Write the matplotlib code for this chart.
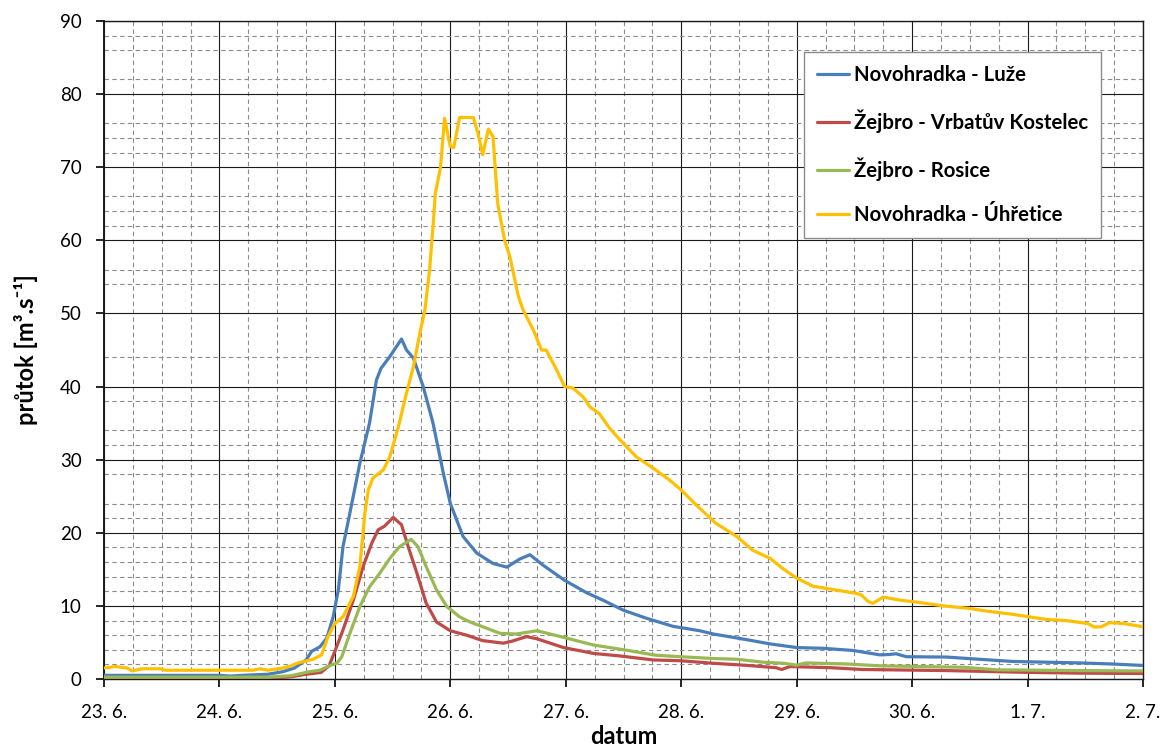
import matplotlib
matplotlib.use("Agg")
import matplotlib.pyplot as plt
from matplotlib.ticker import FixedLocator, MultipleLocator

plt.rcParams['font.family'] = ['Lato', 'DejaVu Sans']

# x = days since 23. 6. 00:00, y = discharge [m3/s]
day_labels = ["23. 6.", "24. 6.", "25. 6.", "26. 6.", "27. 6.",
              "28. 6.", "29. 6.", "30. 6.", "1. 7.", "2. 7."]

luze_t = [0, 0.5, 1.0, 1.09, 1.2, 1.42, 1.55, 1.65, 1.75, 1.8,
          1.87, 1.93, 1.985, 2.03, 2.07, 2.13, 2.216, 2.30, 2.36, 2.40,
          2.476, 2.577, 2.62, 2.68, 2.765, 2.85, 2.94, 3.0, 3.11, 3.23,
          3.37, 3.49, 3.60, 3.69, 3.80, 3.99, 4.18, 4.32, 4.50, 4.70,
          4.93, 5.16, 5.28, 5.56, 5.77, 6.00, 6.23, 6.49, 6.72, 6.80,
          6.86, 6.95, 7.30, 7.58, 7.87, 8.16, 8.45, 8.74, 9.0]
luze_q = [0.5, 0.5, 0.5, 0.4, 0.5, 0.65, 1.0, 1.5, 2.6, 3.8,
          4.4, 5.6, 8.5, 12.2, 18.1, 22.7, 29.5, 35.0, 40.9, 42.5,
          44.1, 46.5, 45.0, 43.9, 40.0, 35.0, 28.1, 24.0, 19.5, 17.2,
          15.8, 15.3, 16.4, 17.0, 15.6, 13.5, 11.8, 10.8, 9.4, 8.3,
          7.2, 6.6, 6.15, 5.4, 4.8, 4.3, 4.2, 3.9, 3.3, 3.35,
          3.45, 3.05, 3.0, 2.7, 2.4, 2.3, 2.2, 2.05, 1.85]

kostelec_t = [0, 1.42, 1.62, 1.73, 1.88, 1.95, 2.0, 2.07, 2.16, 2.245,
              2.32, 2.375, 2.43, 2.505, 2.577, 2.635, 2.71, 2.79, 2.88, 3.0,
              3.08, 3.14, 3.28, 3.46, 3.54, 3.66, 3.75, 3.98, 4.24, 4.47,
              4.76, 4.99, 5.28, 5.56, 5.82, 5.87, 5.94, 6.29, 6.57, 7.30,
              8.02, 8.45, 9.0]
kostelec_q = [0.05, 0.05, 0.3, 0.6, 0.9, 1.8, 3.8, 6.7, 10.8, 15.4,
              18.6, 20.4, 20.9, 22.1, 21.1, 18.1, 14.5, 10.4, 7.8, 6.6,
              6.25, 6.0, 5.25, 4.9, 5.2, 5.8, 5.5, 4.3, 3.5, 3.15,
              2.6, 2.5, 2.15, 1.87, 1.55, 1.3, 1.7, 1.55, 1.3, 1.15,
              0.9, 0.8, 0.75]

rosice_t = [0, 1.42, 1.62, 1.78, 1.87, 1.95, 2.02, 2.06, 2.13, 2.216,
            2.30, 2.39, 2.476, 2.56, 2.66, 2.72, 2.79, 2.88, 2.97, 3.08,
            3.17, 3.28, 3.43, 3.57, 3.75, 3.98, 4.24, 4.50, 4.78, 4.99,
            5.28, 5.48, 5.71, 5.89, 6.0, 6.08, 6.44, 6.72, 7.45, 7.74,
            8.45, 9.0]
rosice_q = [0.25, 0.25, 0.45, 1.0, 1.2, 1.8, 2.2, 3.05, 6.25, 9.9,
            12.6, 14.5, 16.5, 18.1, 19.1, 18.1, 15.4, 12.2, 9.9, 8.5,
            7.8, 7.15, 6.25, 6.15, 6.6, 5.7, 4.65, 4.0, 3.25, 3.05,
            2.8, 2.7, 2.3, 2.15, 1.9, 2.2, 2.05, 1.8, 1.6, 1.25,
            1.15, 1.1]

uhretice_t = [0, 0.1, 0.2, 0.245, 0.33, 0.49, 0.53, 1.29, 1.35, 1.42,
              1.55, 1.62, 1.68, 1.81, 1.885, 1.94, 2.0, 2.07, 2.16, 2.216,
              2.26, 2.29, 2.33, 2.42, 2.476, 2.55, 2.62, 2.68, 2.736, 2.78,
              2.82, 2.85, 2.87, 2.915, 2.95, 3.0, 3.03, 3.08, 3.20, 3.24,
              3.28, 3.33, 3.37, 3.41, 3.47, 3.515, 3.59, 3.63, 3.72, 3.79,
              3.83, 3.92, 3.99, 4.06, 4.15, 4.21, 4.29, 4.38, 4.47, 4.61,
              4.76, 4.90, 5.0, 5.13, 5.30, 5.48, 5.62, 5.77, 5.88, 6.0,
              6.14, 6.31, 6.52, 6.56, 6.62, 6.66, 6.75, 6.89, 7.07, 7.27,
              7.50, 7.64, 7.87, 8.16, 8.33, 8.52, 8.58, 8.64, 8.71, 8.83,
              9.0]
uhretice_q = [1.5, 1.7, 1.5, 1.1, 1.4, 1.4, 1.2, 1.2, 1.4, 1.2,
              1.5, 1.8, 2.2, 2.7, 3.3, 5.8, 7.6, 8.5, 11.3, 15.4,
              22.7, 25.9, 27.5, 28.6, 30.4, 34.5, 39.1, 42.7, 47.3, 50.5,
              55.9, 61.9, 66.4, 70.0, 76.7, 72.8, 72.7, 76.8, 76.8, 74.6,
              71.7, 75.2, 74.2, 65.1, 60.0, 57.8, 52.3, 50.5, 47.7, 45.0,
              45.0, 42.3, 40.0, 39.8, 38.6, 37.2, 36.3, 34.3, 32.7, 30.4,
              28.8, 27.2, 25.85, 23.8, 21.3, 19.5, 17.6, 16.5, 15.1, 13.8,
              12.7, 12.25, 11.7, 11.5, 10.6, 10.35, 11.2, 10.8, 10.45, 10.0,
              9.65, 9.3, 8.85, 8.15, 8.0, 7.6, 7.1, 7.15, 7.7, 7.6,
              7.15]

series = [
    ("Novohradka - Luže", luze_t, luze_q, "#4A7EBB"),
    ("Žejbro - Vrbatův Kostelec", kostelec_t, kostelec_q, "#BE4B48"),
    ("Žejbro - Rosice", rosice_t, rosice_q, "#98B954"),
    ("Novohradka - Úhřetice", uhretice_t, uhretice_q, "#FFC000"),
]

# dashed helper lines for the discharge axis
y_minor = [2, 4, 6, 8, 12, 14, 16, 18, 22, 24, 28, 32, 34, 38, 44,
           54, 56, 62, 64, 66, 72, 74, 76, 82, 86, 88]

fig = plt.figure(figsize=(11.64, 7.47), dpi=100)
ax = fig.add_axes([104 / 1164, 1 - 679 / 747, 1039 / 1164, 658 / 747])

for name, t, q, c in series:
    ax.plot(t, q, color=c, lw=2.3, label=name, zorder=3,
            solid_joinstyle='round', solid_capstyle='round')

ax.set_xlim(0, 9)
ax.set_ylim(0, 90)
ax.xaxis.set_major_locator(MultipleLocator(1))
ax.xaxis.set_minor_locator(MultipleLocator(0.25))
ax.yaxis.set_major_locator(MultipleLocator(10))
ax.yaxis.set_minor_locator(FixedLocator(y_minor))
ax.set_xticks(range(len(day_labels)))
ax.set_xticklabels(day_labels)

ax.grid(which='major', color='#1a1a1a', lw=0.8, zorder=1)
ax.grid(which='minor', color='#8c8c8c', lw=0.8, linestyle=(0, (4, 3)), zorder=1)
ax.set_axisbelow(True)

ax.tick_params(which='major', direction='out', length=6, width=1.2,
               color='black', labelsize=13.5, pad=12)
ax.tick_params(axis='y', which='major', pad=10)
ax.tick_params(which='minor', length=0)
for s in ax.spines.values():
    s.set_color('#1a1a1a')
    s.set_linewidth(1.0)
ax.spines['left'].set_linewidth(1.4)

ax.set_xlabel("datum", fontsize=17, fontweight='bold', labelpad=3)
ax.set_ylabel("průtok [m³.s⁻¹]", fontsize=17, fontweight='bold', labelpad=16)

leg = ax.legend(loc='upper left', bbox_to_anchor=(0.6737, 0.9529),
                prop={'weight': 'bold', 'size': 14.7}, frameon=True,
                fancybox=False, edgecolor='#8c8c8c', framealpha=1,
                handlelength=1.6, handletextpad=0.25, labelspacing=1.2,
                borderpad=0.62, borderaxespad=0)
leg.get_frame().set_linewidth(1.0)
for h in leg.get_lines():
    h.set_linewidth(2.3)

fig.savefig("out.png", dpi=100)
